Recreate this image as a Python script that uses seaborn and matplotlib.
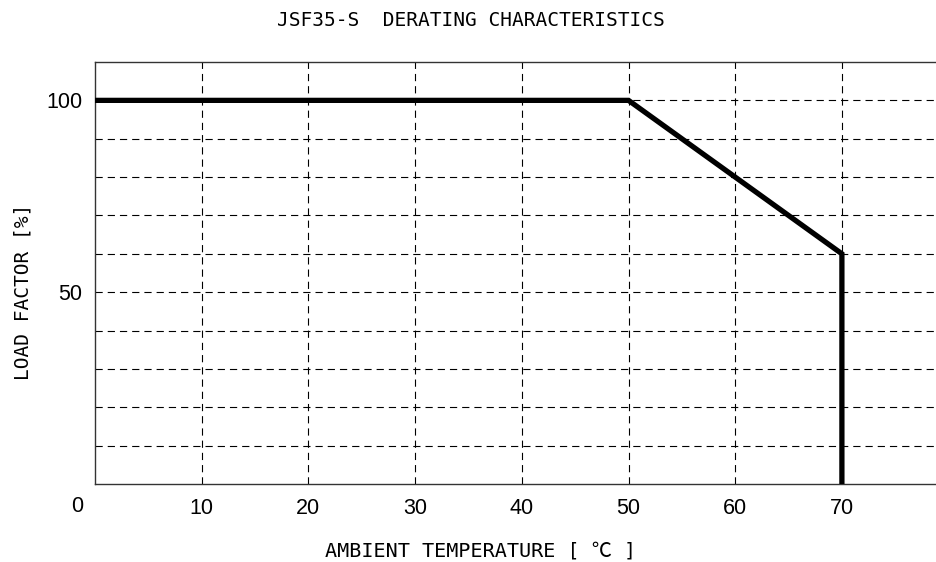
import matplotlib
matplotlib.use("Agg")
import matplotlib.pyplot as plt
import seaborn as sns
import pandas as pd

# data
temperature = [0, 50, 70, 70]
load_factor = [100, 100, 60, 0]
x_ticks = [10, 20, 30, 40, 50, 60, 70]
y_ticks = [50, 100]
x_grid = [10, 20, 30, 40, 50, 60, 70, 80]
y_grid = [10, 20, 30, 40, 50, 60, 70, 80, 90, 100]

sns.set_theme(style="white")
plt.rcParams['font.family'] = ['DejaVu Sans Mono', 'Noto Sans CJK KR']

W, H = 936, 562
fig = plt.figure(figsize=(W / 100, H / 100), dpi=100)
left_px, top_px, bottom_px = 95, 62, 484
px_per_x = 10.67
xmax = 80
ax = fig.add_axes([left_px / W, (H - bottom_px) / H,
                   xmax * px_per_x / W, (bottom_px - top_px) / H])

df = pd.DataFrame({"temp": temperature, "load": load_factor})

for xv in x_grid:
    ax.axvline(xv, color="black", lw=0.8, ls=(0, (6.5, 4.5)), zorder=1)
for yv in y_grid:
    ax.axhline(yv, color="black", lw=0.8, ls=(0, (6.5, 4.5)), zorder=1)

sns.lineplot(data=df, x="temp", y="load", sort=False, estimator=None,
             color="black", lw=3.8, ax=ax, zorder=3)
ax.lines[-1].set_solid_joinstyle("miter")
ax.lines[-1].set_solid_capstyle("butt")

ax.set_xlim(0, xmax)
ax.set_ylim(0, 110)
ax.set_xticks(x_ticks)
ax.set_yticks(y_ticks)
ax.set_xticklabels([str(v) for v in x_ticks], family="Liberation Sans", fontsize=15.5)
ax.set_yticklabels([str(v) for v in y_ticks], family="Liberation Sans", fontsize=15.5)
ax.tick_params(axis="x", length=0, pad=10, labelcolor="black")
ax.tick_params(axis="y", length=0, pad=9, labelcolor="black")
ax.set_xlabel("")
ax.set_ylabel("")
for s in ["left", "bottom", "top"]:
    ax.spines[s].set_visible(True)
    ax.spines[s].set_color("#333333")
    ax.spines[s].set_linewidth(1.0)
ax.spines["right"].set_visible(False)

fig.text(77 / W, 1 - 507 / H, "0", family="Liberation Sans", fontsize=15.5,
         ha="center", va="center", color="black")

fig.text(471 / W, 1 - 21 / H, "JSF35-S  DERATING CHARACTERISTICS",
         fontsize=14, ha="center", va="center", color="black")
fig.text(481 / W, 1 - 551 / H, "AMBIENT TEMPERATURE [ ℃ ]",
         fontsize=14.5, ha="center", va="center", color="black")
fig.text(23 / W, 1 - 292 / H, "LOAD FACTOR [%]",
         fontsize=14, ha="center", va="center", rotation=90, color="black")

fig.savefig("out.png", dpi=100)
